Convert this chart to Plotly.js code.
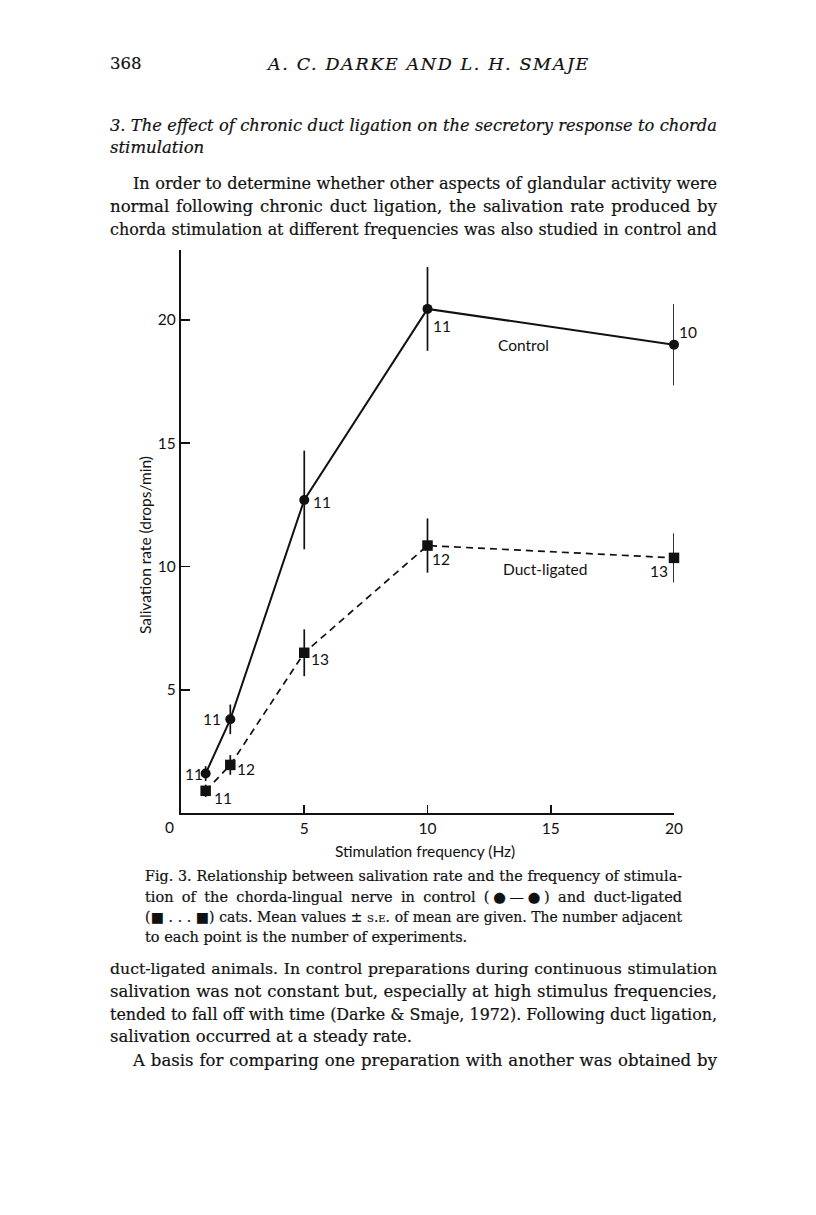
<!DOCTYPE html>
<html>
<head>
<meta charset="utf-8">
<script src="https://cdn.plot.ly/plotly-3.0.1.min.js"></script>
<style>
  html, body { margin: 0; padding: 0; background: #fff; }
  #page { position: relative; width: 816px; height: 1215px; overflow: hidden; background: #fff; }
  #chart { position: absolute; left: 0; top: 0; width: 816px; height: 1215px; }
  .ln { position: absolute; white-space: nowrap; font-family: "DejaVu Serif", "Liberation Serif", serif; color: #111; z-index: 5; -webkit-text-stroke: 0.2px #111; }
  .body { font-size: 16.5px; line-height: 22px; height: 22px; }
  .hdr { font-size: 17.5px; line-height: 22px; height: 22px; }
  .cap { font-size: 14.5px; line-height: 20px; height: 20px; }
  .just { text-align: justify; text-align-last: justify; }
  .it { font-style: italic; }
  .sc { font-variant: small-caps; }
</style>
</head>
<body>
<div id="page">
  <div id="chart"></div>

  <div class="ln body" style="left:110px; top:53px;">368</div>
  <div class="ln hdr it" data-ls="322" style="left:268px; top:53px;">A. C. DARKE AND L. H. SMAJE</div>

  <div class="ln body it" data-w="607" style="left:110px; top:115px;">3. The effect of chronic duct ligation on the secretory response to chorda</div>
  <div class="ln body it" style="left:110px; top:137px;">stimulation</div>

  <div class="ln body" data-w="584" style="left:133px; top:173px;">In order to determine whether other aspects of glandular activity were</div>
  <div class="ln body" data-w="607" style="left:110px; top:196px;">normal following chronic duct ligation, the salivation rate produced by</div>
  <div class="ln body" data-w="607" style="left:110px; top:219px;">chorda stimulation at different frequencies was also studied in control and</div>

  <div class="ln cap" data-w="537" style="left:145px; top:866px;">Fig. 3. Relationship between salivation rate and the frequency of stimula-</div>
  <div class="ln cap" data-w="537" style="left:145px; top:887px;">tion of the chorda-lingual nerve in control (●—●) and duct-ligated</div>
  <div class="ln cap" data-w="537" style="left:145px; top:907px;">(■ . . . ■) cats. Mean values ± <span class="sc">s.e.</span> of mean are given. The number adjacent</div>
  <div class="ln cap" style="left:145px; top:927px;">to each point is the number of experiments.</div>

  <div class="ln body" data-w="607" style="left:110px; top:958px;">duct-ligated animals. In control preparations during continuous stimulation</div>
  <div class="ln body" data-w="607" style="left:110px; top:981px;">salivation was not constant but, especially at high stimulus frequencies,</div>
  <div class="ln body" data-w="607" style="left:110px; top:1004px;">tended to fall off with time (Darke &amp; Smaje, 1972). Following duct ligation,</div>
  <div class="ln body" style="left:110px; top:1026px;">salivation occurred at a steady rate.</div>
  <div class="ln body" data-w="584" style="left:133px; top:1050px;">A basis for comparing one preparation with another was obtained by</div>
</div>

<script>
// ---- data ----
const frequency = [1, 2, 5, 10, 20];
const controlRate = [1.6, 3.8, 12.7, 20.45, 19.0];
const controlSE = [0.3, 0.6, 2.0, 1.7, 1.65];
const controlN = ["11", "11", "11", "11", "10"];
const ligatedRate = [0.9, 1.95, 6.5, 10.85, 10.35];
const ligatedSE = [0.25, 0.4, 0.95, 1.1, 1.0];
const ligatedN = ["11", "12", "13", "12", "13"];
const xTickValues = [5, 10, 15, 20];
const yTickValues = [5, 10, 15, 20];

// label placement (pixel offsets from each point)
const controlLabelShift = [[-12, 0], [-18, 0], [18, -2], [14, -17], [14, 13]];
const ligatedLabelShift = [[17, -7], [16, -4], [16, -6], [13, -13], [-15, -13]];

// fit text lines: shrink if too wide, then justify; or letter-space to a width
document.querySelectorAll('.ln').forEach(el => {
  const span = document.createElement('span');
  while (el.firstChild) span.appendChild(el.firstChild);
  el.appendChild(span);
  if (el.dataset.w) {
    const w = +el.dataset.w;
    let fs = parseFloat(getComputedStyle(el).fontSize);
    while (span.getBoundingClientRect().width > w && fs > 8) {
      fs -= 0.2; el.style.fontSize = fs + 'px';
    }
    el.style.width = w + 'px';
    el.classList.add('just');
  } else if (el.dataset.ls) {
    const w = +el.dataset.ls;
    const nat = span.getBoundingClientRect().width;
    const n = span.textContent.length;
    el.style.letterSpacing = ((w - nat) / n) + 'px';
  }
});

const chartFont = { family: "Lato, 'Open Sans', sans-serif", size: 15.5, color: "#111" };

const traces = [
  {
    x: frequency, y: controlRate, type: "scatter", mode: "lines+markers",
    line: { color: "#111", width: 2 },
    marker: { symbol: "circle", size: 10, color: "#111" },
    error_y: { type: "data", array: controlSE, visible: true, color: "#111", thickness: 1.7, width: 0 },
    showlegend: false, cliponaxis: false
  },
  {
    x: frequency, y: ligatedRate, type: "scatter", mode: "lines+markers",
    line: { color: "#111", width: 1.7, dash: "7px,5px" },
    marker: { symbol: "square", size: 10.5, color: "#111" },
    error_y: { type: "data", array: ligatedSE, visible: true, color: "#111", thickness: 1.7, width: 0 },
    showlegend: false, cliponaxis: false
  }
];

const annotations = [];
frequency.forEach((f, i) => {
  annotations.push({ x: f, y: controlRate[i], xref: "x", yref: "y", text: controlN[i], showarrow: false,
    xshift: controlLabelShift[i][0], yshift: controlLabelShift[i][1], font: chartFont });
  annotations.push({ x: f, y: ligatedRate[i], xref: "x", yref: "y", text: ligatedN[i], showarrow: false,
    xshift: ligatedLabelShift[i][0], yshift: ligatedLabelShift[i][1], font: chartFont });
});
annotations.push({ x: 13.9, y: 19.0, xref: "x", yref: "y", text: "Control", showarrow: false, font: chartFont });
annotations.push({ x: 14.75, y: 9.9, xref: "x", yref: "y", text: "Duct-ligated", showarrow: false, font: chartFont });
annotations.push({ x: 0, y: 0, xref: "x", yref: "y", text: "0", showarrow: false, xshift: -12, yshift: -14, font: chartFont });
annotations.push({ x: -0.073, y: 0.476, xref: "paper", yref: "paper", xanchor: "center", yanchor: "middle",
  text: "Salivation rate (drops/min)", textangle: -90, showarrow: false, font: chartFont });
annotations.push({ x: 0.495, y: -0.0675, xref: "paper", yref: "paper", xanchor: "center", yanchor: "middle",
  text: "Stimulation frequency (Hz)", showarrow: false, font: chartFont });

const layout = {
  width: 816, height: 1215,
  margin: { l: 181, r: 142, t: 250, b: 402, pad: 0 },
  paper_bgcolor: "rgba(0,0,0,0)", plot_bgcolor: "rgba(0,0,0,0)",
  font: chartFont,
  showlegend: false,
  xaxis: {
    range: [0, 20], showgrid: false, zeroline: false, showline: true, linecolor: "#111", linewidth: 2.2,
    ticks: "inside", ticklen: 8, tickwidth: 1.6, tickcolor: "#111",
    tickvals: xTickValues, ticktext: xTickValues.map(String), tickfont: chartFont
  },
  yaxis: {
    range: [0, 22.84], showgrid: false, zeroline: false, showline: true, linecolor: "#111", linewidth: 2.2,
    ticks: "inside", ticklen: 9, tickwidth: 1.6, tickcolor: "#111",
    tickvals: yTickValues, ticktext: yTickValues.map(String), tickfont: chartFont
  },
  annotations: annotations
};

Plotly.newPlot("chart", traces, layout, { staticPlot: true, displayModeBar: false });
</script>
</body>
</html>
